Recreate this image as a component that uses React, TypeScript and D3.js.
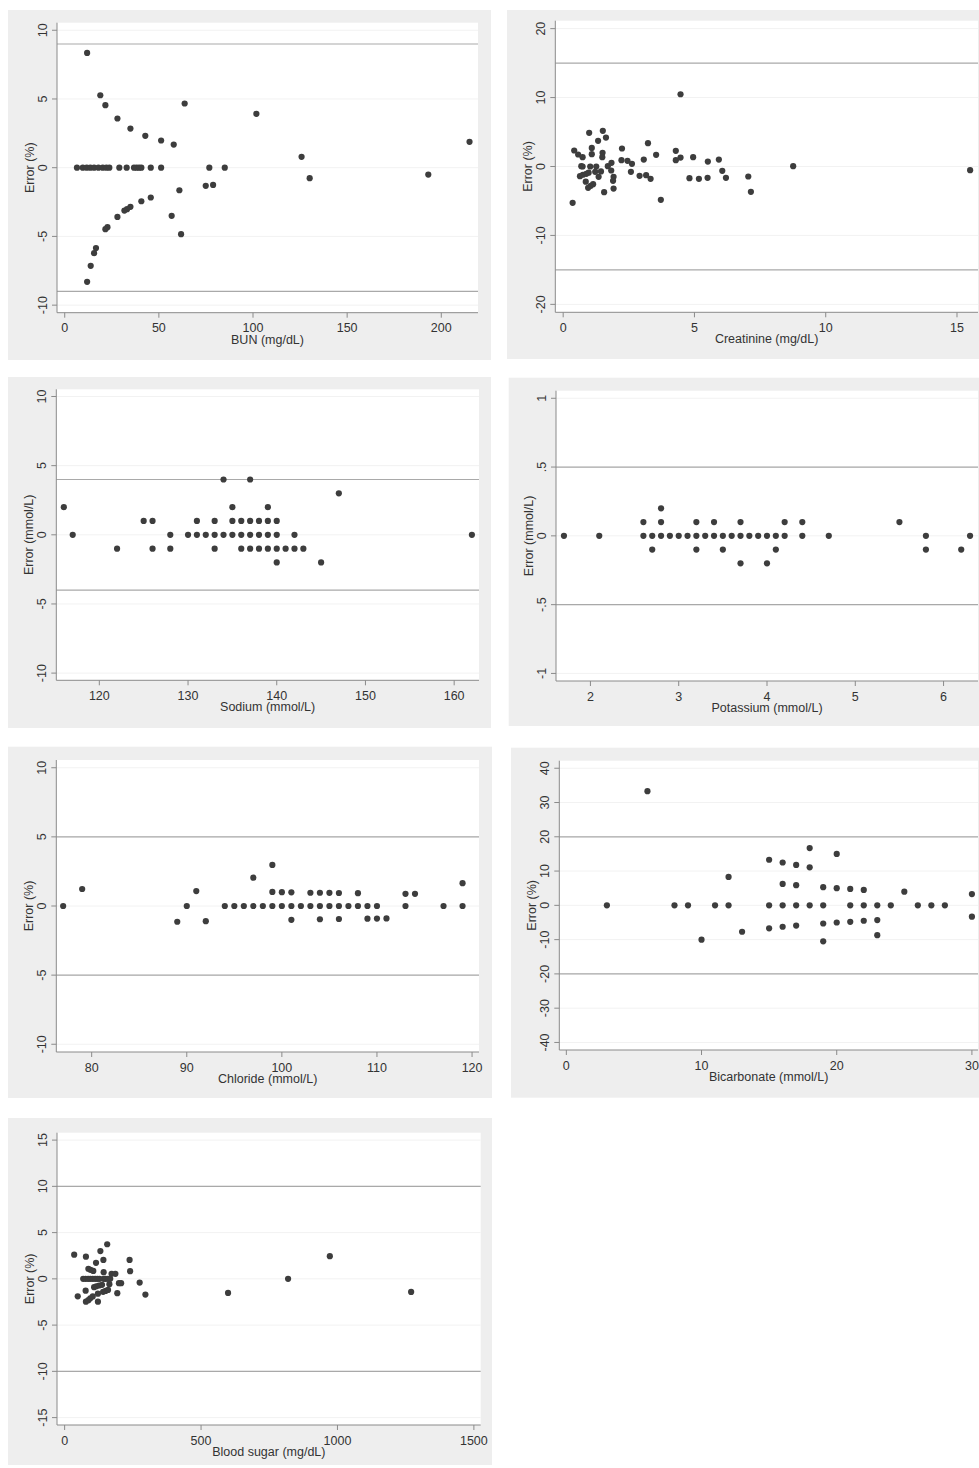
import React from 'react';
import * as d3 from 'd3';

// measured points, [concentration, error]
const bunPoints: [number, number][] = [
  [11.9, 8.35], [18.9, 5.27], [21.6, 4.55], [28, 3.58], [34.9, 2.85], [42.8, 2.32], [51.2, 1.98],
  [57.9, 1.68], [63.7, 4.67], [101.8, 3.92], [125.8, 0.79], [130.1, -0.76], [193.1, -0.5], [215, 1.88],
  [6.5, 0], [9.6, 0], [11.7, 0], [13.6, 0], [15.6, 0], [17.9, 0], [20.2, 0], [22.1, 0], [23.7, 0],
  [29, 0], [32.9, 0], [36.8, 0], [38.2, 0], [39.5, 0], [40.7, 0], [45.7, 0], [51.2, 0], [76.8, 0], [85, 0],
  [60.9, -1.64], [74.9, -1.32], [78.8, -1.25], [45.7, -2.17], [40.7, -2.44], [34.9, -2.85], [33.1, -3.02],
  [31.7, -3.12], [28, -3.58], [56.8, -3.5], [22.7, -4.33], [21.6, -4.47], [61.8, -4.84], [16.6, -5.85],
  [15.6, -6.22], [13.8, -7.14], [11.9, -8.3],
];

const creatininePoints: [number, number][] = [
  [0.36, -5.27], [0.42, 2.32], [0.57, 1.74], [0.74, 1.35], [0.69, 0.05], [0.74, 0], [0.99, 4.88],
  [1.09, 2.7], [1.09, 1.79], [1.03, 0], [1.26, 0], [1.33, 3.72], [1.51, 5.17], [1.5, 1.98], [1.49, 1.35],
  [1.63, 4.2], [1.7, 0.05], [1.84, 0.53], [1.83, -0.58], [0.64, -1.4], [0.75, -1.2], [0.88, -1.06],
  [0.97, -0.9], [1.22, -0.77], [1.44, -0.72], [1.35, -1.5], [0.86, -2.2], [1.14, -2.56], [1.05, -2.8],
  [0.95, -3.1], [1.92, -1.5], [1.9, -2.08], [1.92, -3.2], [1.56, -3.72], [2.22, 0.92], [2.24, 2.61],
  [2.45, 0.82], [2.62, 0.39], [2.58, -0.77], [2.91, -1.35], [3.07, 1.01], [3.16, -1.26], [3.23, 3.38],
  [3.33, -1.79], [3.54, 1.69], [3.72, -4.83], [4.29, 2.27], [4.29, 0.92], [4.47, 1.3], [4.47, 10.48],
  [4.81, -1.69], [4.95, 1.35], [5.17, -1.79], [5.51, 0.72], [5.5, -1.64], [5.93, 1.01], [6.06, -0.63],
  [6.2, -1.64], [7.05, -1.45], [7.15, -3.67], [8.76, 0.05], [15.5, -0.53],
];

const sodiumPoints: [number, number][] = [
  [116, 2], [117, 0], [122, -1], [125, 1], [126, 1], [126, -1], [128, 0], [128, -1], [130, 0],
  [131, 1], [131, 0], [132, 0], [133, 1], [133, 0], [133, -1], [134, 4], [134, 0],
  [135, 2], [135, 1], [135, 0], [136, 1], [136, 0], [136, -1], [137, 4], [137, 1], [137, 0], [137, -1],
  [138, 1], [138, 0], [138, -1], [139, 2], [139, 1], [139, 0], [139, -1],
  [140, 1], [140, 0], [140, -1], [140, -2], [141, -1], [142, 0], [142, -1], [143, -1],
  [145, -2], [147, 3], [162, 0],
];

const potassiumPoints: [number, number][] = [
  [1.7, 0], [2.1, 0], [2.6, 0.1], [2.6, 0], [2.7, 0], [2.7, -0.1], [2.8, 0.2], [2.8, 0.1], [2.8, 0],
  [2.9, 0], [3.0, 0], [3.1, 0], [3.2, 0.1], [3.2, 0], [3.2, -0.1], [3.3, 0], [3.4, 0.1], [3.4, 0],
  [3.5, 0], [3.5, -0.1], [3.6, 0], [3.7, 0.1], [3.7, 0], [3.7, -0.2], [3.8, 0], [3.9, 0],
  [4.0, 0], [4.0, -0.2], [4.1, 0], [4.1, -0.1], [4.2, 0.1], [4.2, 0], [4.4, 0.1], [4.4, 0], [4.7, 0],
  [5.5, 0.1], [5.8, 0], [5.8, -0.1], [6.2, -0.1], [6.3, 0],
];

const chloridePoints: [number, number][] = [
  [77, 0], [79, 1.23], [89, -1.14], [90, 0], [91, 1.08], [92, -1.1], [94, 0], [95, 0], [96, 0],
  [97, 2.05], [97, 0], [98, 0], [99, 2.97], [99, 1.02], [99, 0], [100, 1.0], [100, 0],
  [101, 0.99], [101, 0], [101, -1.0], [102, 0], [103, 0.96], [103, 0], [104, 0.96], [104, 0], [104, -0.96],
  [105, 0.95], [105, 0], [106, 0.94], [106, 0], [106, -0.94], [107, 0], [108, 0.93], [108, 0],
  [109, 0], [109, -0.92], [110, 0], [110, -0.91], [111, -0.9], [113, 0.88], [113, 0], [114, 0.88],
  [117, 0], [119, 1.65], [119, 0],
];

const bicarbonatePoints: [number, number][] = [
  [3, 0], [6, 33.3], [8, 0], [9, 0], [10, -10], [11, 0], [12, 8.3], [12, 0], [13, -7.7],
  [15, 13.3], [15, 0], [15, -6.7], [16, 12.5], [16, 6.25], [16, 0], [16, -6.25],
  [17, 11.8], [17, 5.9], [17, 0], [17, -5.9], [18, 16.7], [18, 11.1], [18, 0],
  [19, 5.3], [19, 0], [19, -5.3], [19, -10.5], [20, 15], [20, 5], [20, -5],
  [21, 4.8], [21, 0], [21, -4.8], [22, 4.5], [22, 0], [22, -4.5], [23, 0], [23, -4.3], [23, -8.7],
  [24, 0], [25, 4], [26, 0], [27, 0], [28, 0], [30, 3.3], [30, -3.3],
];

const sugarPoints: [number, number][] = [
  [35, 2.61], [48, -1.89], [78, 2.4], [77, -1.28], [78, -2.47], [87, -2.3], [94, -2.1], [103, -1.9],
  [87, 1.08], [95, 0.97], [105, 0.86], [115, 1.73], [122, -2.47], [122, -1.6], [131, 3.0], [142, 2.05],
  [143, 0.72], [156, 3.74], [108, -0.9], [116, -0.8], [126, -0.72], [137, -0.65], [141, -1.4],
  [150, -1.3], [159, -1.2], [164, -0.58], [172, 0.54], [186, 0.54], [199, -0.47], [207, -0.47],
  [193, -1.55], [238, 2.05], [240, 0.83], [275, -0.4], [296, -1.7], [599, -1.52], [819, 0],
  [972, 2.45], [1270, -1.41],
  [68, 0], [77, 0], [86, 0], [94, 0], [103, 0], [112, 0], [120, 0], [128, 0], [143, 0], [150, 0], [159, 0], [167, 0],
];

const bunXTicks = [0, 50, 100, 150, 200];
const creatinineXTicks = [0, 5, 10, 15];
const sodiumXTicks = [120, 130, 140, 150, 160];
const potassiumXTicks = [2, 3, 4, 5, 6];
const chlorideXTicks = [80, 90, 100, 110, 120];
const bicarbonateXTicks = [0, 10, 20, 30];
const sugarXTicks = [0, 500, 1000, 1500];

const yTicks10 = [-10, -5, 0, 5, 10];
const yTicks20 = [-20, -10, 0, 10, 20];
const yTicks1 = [-1, -0.5, 0, 0.5, 1];
const yTicks40 = [-40, -30, -20, -10, 0, 10, 20, 30, 40];
const yTicks15 = [-15, -10, -5, 0, 5, 10, 15];

// acceptance limits (+/-)
const limits = [9, 15, 4, 0.5, 5, 20, 10];

const panels = [
  { data: bunPoints, xTitle: 'BUN (mg/dL)', yTitle: 'Error (%)', xTicks: bunXTicks, yTicks: yTicks10, limit: limits[0],
    box: [8, 10, 491, 360], plot: [57, 22.7, 478, 312.7], xDom: [-4.1, 219.5], yDom: [-10.55, 10.55] },
  { data: creatininePoints, xTitle: 'Creatinine (mg/dL)', yTitle: 'Error (%)', xTicks: creatinineXTicks, yTicks: yTicks20, limit: limits[1],
    box: [507, 10, 990, 359], plot: [555.3, 20.7, 978, 312.3], xDom: [-0.3, 15.8], yDom: [-21.15, 21.15] },
  { data: sodiumPoints, xTitle: 'Sodium (mmol/L)', yTitle: 'Error (mmol/L)', xTicks: sodiumXTicks, yTicks: yTicks10, limit: limits[2],
    box: [8, 377, 491, 728], plot: [56.3, 389.3, 479, 680.3], xDom: [115.15, 162.8], yDom: [-10.52, 10.52] },
  { data: potassiumPoints, xTitle: 'Potassium (mmol/L)', yTitle: 'Error (mmol/L)', xTicks: potassiumXTicks, yTicks: yTicks1, limit: limits[3],
    box: [508.7, 377.7, 990, 726], plot: [556, 390.7, 978, 681], xDom: [1.61, 6.39], yDom: [-1.055, 1.055] },
  { data: chloridePoints, xTitle: 'Chloride (mmol/L)', yTitle: 'Error (%)', xTicks: chlorideXTicks, yTicks: yTicks10, limit: limits[4],
    box: [8, 746.7, 492, 1098], plot: [56.3, 760, 479, 1052], xDom: [76.28, 120.73], yDom: [-10.56, 10.56] },
  { data: bicarbonatePoints, xTitle: 'Bicarbonate (mmol/L)', yTitle: 'Error (%)', xTicks: bicarbonateXTicks, yTicks: yTicks40, limit: limits[5],
    box: [511, 747.7, 990, 1097.7], plot: [559.3, 760.7, 978, 1050], xDom: [-0.52, 30.45], yDom: [-42.2, 42.2] },
  { data: sugarPoints, xTitle: 'Blood sugar (mg/dL)', yTitle: 'Error (%)', xTicks: sugarXTicks, yTicks: yTicks15, limit: limits[6],
    box: [8, 1118, 492, 1465], plot: [57, 1132.7, 480.7, 1425], xDom: [-28, 1525], yDom: [-15.8, 15.8] },
];

const fmt = (d: number) => (d === 0 ? '0' : String(d).replace('0.', '.'));

const FONT = '"Liberation Sans", Arial, sans-serif';

function Panel({ p }: { p: any }) {
  const [bx0, by0, bx1, by1] = p.box;
  const [px0, py0, px1, py1] = p.plot;
  const x = d3.scaleLinear().domain(p.xDom).range([px0, px1]);
  const y = d3.scaleLinear().domain(p.yDom).range([py1, py0]);
  const midX = (px0 + px1) / 2;
  const midY = (py0 + py1) / 2;
  return (
    <g>
      <rect x={bx0} y={by0} width={bx1 - bx0} height={by1 - by0} fill="#eeeeee" />
      <rect x={px0} y={py0} width={px1 - px0} height={py1 - py0} fill="#ffffff" />
      {p.yTicks.map((t: number) => (
        <line key={'g' + t} x1={px0} x2={px1} y1={y(t)} y2={y(t)} stroke="#f2f2f2" strokeWidth={1} />
      ))}
      {[p.limit, -p.limit].map((l: number) => (
        <line key={'l' + l} x1={px0} x2={px1} y1={y(l)} y2={y(l)} stroke="#a9a9a9" strokeWidth={1.2} />
      ))}
      <line x1={px0} x2={px0} y1={py0} y2={py1} stroke="#8a8a8a" strokeWidth={1} />
      <line x1={px0} x2={px1} y1={py1} y2={py1} stroke="#8a8a8a" strokeWidth={1} />
      {p.yTicks.map((t: number) => (
        <g key={'y' + t}>
          <line x1={px0 - 5} x2={px0} y1={y(t)} y2={y(t)} stroke="#8a8a8a" />
          <text transform={`translate(${px0 - 14},${y(t)}) rotate(-90)`} textAnchor="middle"
            dominantBaseline="central" fontSize={12.5} fill="#333" fontFamily={FONT}>{fmt(t)}</text>
        </g>
      ))}
      {p.xTicks.map((t: number) => (
        <g key={'x' + t}>
          <line x1={x(t)} x2={x(t)} y1={py1} y2={py1 + 5} stroke="#8a8a8a" />
          <text x={x(t)} y={py1 + 15.5} textAnchor="middle" dominantBaseline="central"
            fontSize={12.5} fill="#333" fontFamily={FONT}>{fmt(t)}</text>
        </g>
      ))}
      <text x={midX} y={py1 + 27} textAnchor="middle" dominantBaseline="central"
        fontSize={12.5} fill="#333" fontFamily={FONT}>{p.xTitle}</text>
      <text transform={`translate(${px0 - 27},${midY}) rotate(-90)`} textAnchor="middle"
        dominantBaseline="central" fontSize={12.5} fill="#333" fontFamily={FONT}>{p.yTitle}</text>
      {p.data.map((d: [number, number], i: number) => (
        <circle key={i} cx={x(d[0])} cy={y(d[1])} r={3.1} fill="#3d3d3d" />
      ))}
    </g>
  );
}

export default function App() {
  return (
    <svg width={979} height={1468} style={{ position: 'absolute', left: 0, top: 0, background: '#fff' }}>
      {panels.map((p, i) => (
        <Panel key={i} p={p} />
      ))}
    </svg>
  );
}
